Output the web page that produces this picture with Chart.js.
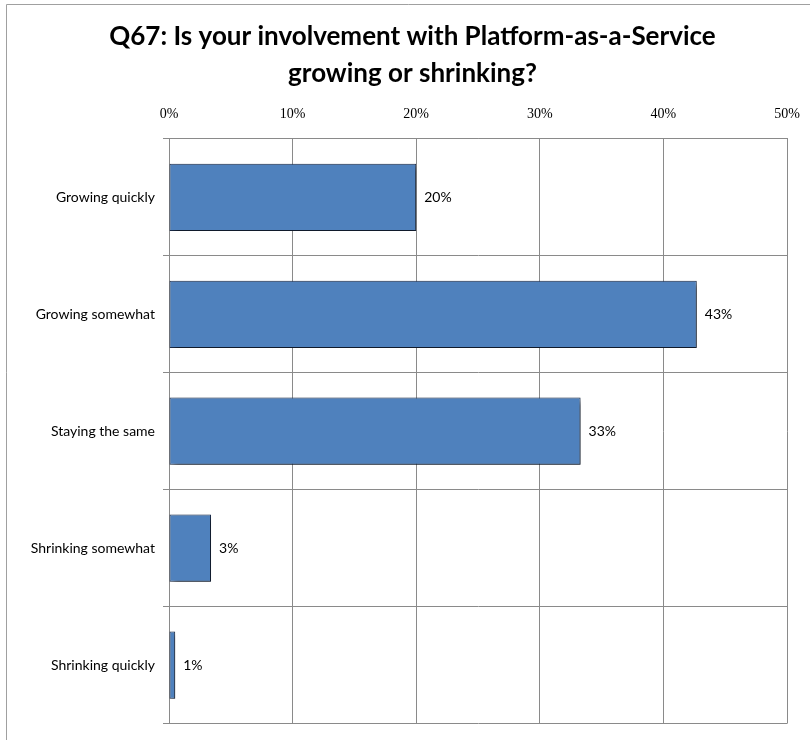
<!DOCTYPE html>
<html>
<head>
<meta charset="utf-8">
<script src="https://cdn.jsdelivr.net/npm/chart.js@4/dist/chart.umd.min.js"></script>
<style>
  html, body { margin: 0; padding: 0; background: #fff; }
  #wrap { position: relative; width: 810px; height: 740px; }
</style>
</head>
<body>
<div id="wrap"><canvas id="c" width="810" height="740"></canvas></div>
<script>
const titleLines = ['Q67: Is your involvement with Platform-as-a-Service', 'growing or shrinking?'];
const categories = ['Growing quickly', 'Growing somewhat', 'Staying the same', 'Shrinking somewhat', 'Shrinking quickly'];
const values = [20.0, 42.7, 33.3, 3.4, 0.5];
const axisMin = 0;
const axisMax = 50;
const axisStep = 10;

const FONT = 'Lato, "Open Sans", "DejaVu Sans", sans-serif';
const TICK_FONT = '"Liberation Serif", "DejaVu Serif", serif';

const framePlugin = {
  id: 'frame',
  beforeDraw(chart) {
    const ctx = chart.ctx;
    ctx.save();
    ctx.fillStyle = '#fff';
    ctx.fillRect(0, 0, chart.width, chart.height);
    ctx.strokeStyle = '#a0a0a0';
    ctx.lineWidth = 1;
    ctx.beginPath();
    ctx.moveTo(6.5, chart.height);
    ctx.lineTo(6.5, 4.5);
    ctx.lineTo(chart.width, 4.5);
    ctx.stroke();
    ctx.restore();
  }
};

// shift the title block so it is centred like the original (slightly right of canvas centre)
const titleShiftPlugin = {
  id: 'titleShift',
  afterLayout(chart) {
    if (chart.titleBlock) {
      chart.titleBlock.left = 38;
    }
  }
};

const shadowPlugin = {
  id: 'barShadow',
  beforeDatasetsDraw(chart) {
    const ctx = chart.ctx;
    ctx.save();
    ctx.shadowColor = 'rgba(0,0,0,0.55)';
    ctx.shadowBlur = 5;
    ctx.shadowOffsetX = 3;
    ctx.shadowOffsetY = 3;
  },
  afterDatasetsDraw(chart) {
    chart.ctx.restore();
  }
};

const labelPlugin = {
  id: 'barLabels',
  afterDatasetsDraw(chart) {
    const ctx = chart.ctx;
    const meta = chart.getDatasetMeta(0);
    ctx.save();
    ctx.shadowColor = 'transparent';
    ctx.fillStyle = '#000';
    ctx.font = '14px ' + FONT;
    ctx.textAlign = 'left';
    ctx.textBaseline = 'middle';
    meta.data.forEach((bar, i) => {
      ctx.fillText(values[i].toFixed(0) + '%', bar.x + 8, bar.y);
    });
    ctx.restore();
  }
};

new Chart(document.getElementById('c'), {
  type: 'bar',
  data: {
    labels: categories,
    datasets: [{
      data: values,
      backgroundColor: '#4F81BD',
      borderColor: '#1c2d4a',
      borderWidth: 1,
      borderSkipped: false,
      categoryPercentage: 0.575,
      barPercentage: 1.0
    }]
  },
  options: {
    indexAxis: 'y',
    responsive: false,
    animation: false,
    devicePixelRatio: 1,
    layout: { padding: { left: 8, right: 23, top: 6, bottom: 15 } },
    plugins: {
      legend: { display: false },
      tooltip: { enabled: false },
      title: {
        display: true,
        text: titleLines,
        color: '#000',
        font: { family: FONT, size: 26, weight: 'bold', lineHeight: 1.42 },
        padding: { top: 12, bottom: 11 }
      }
    },
    scales: {
      x: {
        position: 'top',
        min: axisMin,
        max: axisMax,
        ticks: {
          stepSize: axisStep,
          color: '#000',
          font: { family: TICK_FONT, size: 14 },
          padding: 16,
          callback: v => v + '%'
        },
        grid: { color: '#8a8a8a', lineWidth: 1, drawTicks: false },
        border: { display: true, color: '#8a8a8a' },
        afterFit(scale) {
          scale.height = 36;
          scale.paddingLeft = 0;
          scale.paddingRight = 0;
        }
      },
      y: {
        ticks: {
          color: '#000',
          font: { family: FONT, size: 14 },
          padding: 8
        },
        grid: { color: '#8a8a8a', lineWidth: 1, offset: true, drawTicks: true, tickLength: 6 },
        border: { display: true, color: '#8a8a8a' },
        afterFit(scale) { scale.width = 161; }
      }
    }
  },
  plugins: [framePlugin, titleShiftPlugin, shadowPlugin, labelPlugin]
});
</script>
</body>
</html>
